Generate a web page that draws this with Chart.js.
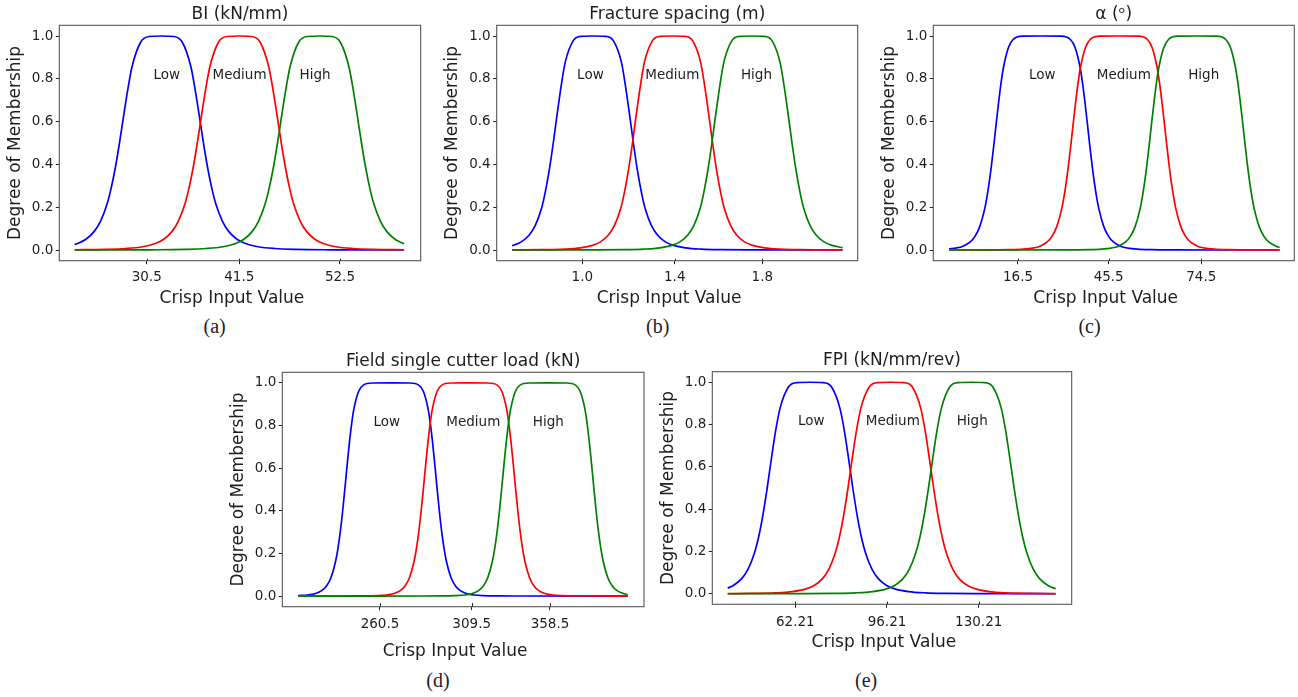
<!DOCTYPE html>
<html><head><meta charset="utf-8">
<script src="https://cdn.jsdelivr.net/npm/chart.js@4.4.1/dist/chart.umd.min.js"></script>
<style>
html,body{margin:0;padding:0;background:#fff;}
body{width:1298px;height:697px;overflow:hidden;position:relative;}
canvas{position:absolute;}
.cap{position:absolute;font-family:"Liberation Serif","Times New Roman",serif;font-size:20px;line-height:20px;color:#222;transform:translate(-50%,-50%);white-space:nowrap;}
</style></head><body>
<canvas id="ca"></canvas><canvas id="cb"></canvas><canvas id="cc"></canvas><canvas id="cd"></canvas><canvas id="ce"></canvas>
<div class="cap" id="capa">(a)</div><div class="cap" id="capb">(b)</div><div class="cap" id="capc">(c)</div><div class="cap" id="capd">(d)</div><div class="cap" id="cape">(e)</div>
<script>
// ---------- shared ----------
const setNames = ['Low', 'Medium', 'High'];
const setColors = ['#0000ff', '#ff0000', '#008000'];
const yTickValues = [0, 0.2, 0.4, 0.6, 0.8, 1.0];
const setLabelY = 0.8;

// ---------- (a) BI (kN/mm) ----------
const biTitle = 'BI (kN/mm)';
const biTickPos = [30.5, 41.04, 52.5];
const biTickLabels = ['30.5', '41.5', '52.5'];
const biLabelX = [32.78, 41.07, 49.66];
const biLowX = [22.3, 22.62, 23.58, 24.53, 25.25, 25.97, 26.44, 26.92, 27.40, 27.88, 28.36, 28.83, 29.79, 30.75, 32.18, 33.61, 34.57, 35.53, 36.00, 36.48, 36.96, 37.44, 37.92, 38.39, 39.11, 39.83, 40.78, 41.74, 43.17, 45.09, 47.48, 51.30, 56.08, 59.8];
const biLowY = [0.026, 0.0303, 0.0503, 0.0871, 0.1350, 0.2122, 0.2867, 0.3831, 0.5, 0.6287, 0.7532, 0.8561, 0.9697, 0.9976, 1, 0.9976, 0.9697, 0.8561, 0.7532, 0.6287, 0.5, 0.3831, 0.2867, 0.2122, 0.1350, 0.0871, 0.0503, 0.0303, 0.0153, 0.0069, 0.0030, 0.0010, 0.0003, 0.0002];
const biMedX = [22.3, 25.74, 28.13, 30.05, 31.48, 32.44, 33.39, 34.11, 34.83, 35.30, 35.78, 36.26, 36.74, 37.22, 37.69, 38.65, 39.61, 41.04, 42.47, 43.43, 44.39, 44.86, 45.34, 45.82, 46.30, 46.78, 47.25, 47.97, 48.69, 49.64, 50.60, 52.03, 53.95, 56.34, 59.8];
const biMedY = [0.0011, 0.0030, 0.0069, 0.0153, 0.0303, 0.0503, 0.0871, 0.1350, 0.2122, 0.2867, 0.3831, 0.5, 0.6287, 0.7532, 0.8561, 0.9697, 0.9976, 1, 0.9976, 0.9697, 0.8561, 0.7532, 0.6287, 0.5, 0.3831, 0.2867, 0.2122, 0.1350, 0.0871, 0.0503, 0.0303, 0.0153, 0.0069, 0.0030, 0.0011];
const biHighX = [22.3, 26.27, 31.05, 34.87, 37.26, 39.18, 40.61, 41.57, 42.52, 43.24, 43.96, 44.43, 44.91, 45.39, 45.87, 46.35, 46.82, 47.78, 48.74, 50.17, 51.60, 52.56, 53.52, 53.99, 54.47, 54.95, 55.43, 55.91, 56.38, 57.10, 57.82, 58.77, 59.8];
const biHighY = [0.0001, 0.0003, 0.0010, 0.0030, 0.0069, 0.0153, 0.0303, 0.0503, 0.0871, 0.1350, 0.2122, 0.2867, 0.3831, 0.5, 0.6287, 0.7532, 0.8561, 0.9697, 0.9976, 1, 0.9976, 0.9697, 0.8561, 0.7532, 0.6287, 0.5, 0.3831, 0.2867, 0.2122, 0.1350, 0.0871, 0.0503, 0.029];

// ---------- (b) Fracture spacing (m) ----------
const fsTitle = 'Fracture spacing (m)';
const fsTickPos = [1.0, 1.411, 1.8];
const fsTickLabels = ['1.0', '1.4', '1.8'];
const fsLabelX = [1.036, 1.400, 1.774];
const fsLowX = [0.688, 0.729, 0.764, 0.791, 0.818, 0.835, 0.853, 0.871, 0.889, 0.907, 0.924, 0.960, 0.996, 1.049, 1.102, 1.138, 1.174, 1.191, 1.209, 1.227, 1.245, 1.263, 1.280, 1.307, 1.334, 1.369, 1.405, 1.458, 1.530, 1.619, 1.761, 1.939, 2.157];
const fsLowY = [0.020, 0.0380, 0.0701, 0.1147, 0.1911, 0.2684, 0.3719, 0.5, 0.6410, 0.7733, 0.8767, 0.9784, 0.9987, 1, 0.9987, 0.9784, 0.8767, 0.7733, 0.6410, 0.5, 0.3719, 0.2684, 0.1911, 0.1147, 0.0701, 0.0380, 0.0216, 0.0101, 0.0042, 0.0017, 0.0005, 0.0001, 0];
const fsMedX = [0.688, 0.831, 0.920, 0.992, 1.045, 1.081, 1.116, 1.143, 1.170, 1.187, 1.205, 1.223, 1.241, 1.259, 1.276, 1.312, 1.348, 1.401, 1.454, 1.490, 1.526, 1.543, 1.561, 1.579, 1.597, 1.615, 1.632, 1.659, 1.686, 1.721, 1.757, 1.810, 1.882, 1.971, 2.157];
const fsMedY = [0.0005, 0.0017, 0.0042, 0.0101, 0.0216, 0.0380, 0.0701, 0.1147, 0.1911, 0.2684, 0.3719, 0.5, 0.6410, 0.7733, 0.8767, 0.9784, 0.9987, 1, 0.9987, 0.9784, 0.8767, 0.7733, 0.6410, 0.5, 0.3719, 0.2684, 0.1911, 0.1147, 0.0701, 0.0380, 0.0216, 0.0101, 0.0042, 0.0017, 0.0003];
const fsHighX = [0.688, 0.864, 1.042, 1.184, 1.273, 1.345, 1.398, 1.434, 1.469, 1.496, 1.523, 1.540, 1.558, 1.576, 1.594, 1.612, 1.629, 1.665, 1.701, 1.754, 1.807, 1.843, 1.879, 1.896, 1.914, 1.932, 1.950, 1.968, 1.985, 2.012, 2.039, 2.074, 2.110, 2.157];
const fsHighY = [0, 0.0001, 0.0005, 0.0017, 0.0042, 0.0101, 0.0216, 0.0380, 0.0701, 0.1147, 0.1911, 0.2684, 0.3719, 0.5, 0.6410, 0.7733, 0.8767, 0.9784, 0.9987, 1, 0.9987, 0.9784, 0.8767, 0.7733, 0.6410, 0.5, 0.3719, 0.2684, 0.1911, 0.1147, 0.0701, 0.0380, 0.0216, 0.011];

// ---------- (c) alpha (deg) ----------
const alTitle = 'α (ᵒ)';
const alTickPos = [16.5, 45.2, 74.5];
const alTickLabels = ['16.5', '45.5', '74.5'];
const alLabelX = [24.19, 49.98, 75.27];
const alLowX = [-5.3, -3.15, -0.89, 1.38, 2.89, 4.40, 5.91, 6.66, 7.42, 8.17, 8.93, 9.68, 10.44, 11.19, 11.95, 13.46, 14.97, 17.99, 24.03, 30.07, 33.09, 34.60, 36.11, 36.87, 37.62, 38.38, 39.13, 39.89, 40.64, 41.40, 42.15, 43.66, 45.17, 46.68, 48.95, 51.21, 54.23, 58.76, 64.80, 99.3];
const alLowY = [0.0049, 0.0090, 0.0179, 0.0376, 0.0635, 0.1092, 0.1887, 0.2464, 0.3181, 0.4036, 0.5, 0.6012, 0.6991, 0.7859, 0.8563, 0.9455, 0.9835, 0.9993, 1, 0.9993, 0.9835, 0.9455, 0.8563, 0.7859, 0.6991, 0.6012, 0.5, 0.4036, 0.3181, 0.2464, 0.1887, 0.1092, 0.0635, 0.0376, 0.0179, 0.0090, 0.0039, 0.0013, 0.0004, 0];
const alMedX = [-5.3, 7.63, 13.67, 18.20, 21.22, 23.48, 25.75, 27.26, 28.77, 30.28, 31.03, 31.79, 32.54, 33.30, 34.05, 34.81, 35.56, 36.32, 37.83, 39.34, 42.36, 48.4, 54.44, 57.46, 58.97, 60.48, 61.24, 61.99, 62.75, 63.50, 64.26, 65.01, 65.77, 66.52, 68.03, 69.54, 71.05, 73.32, 75.58, 78.60, 83.13, 89.17, 99.3];
const alMedY = [0, 0.0004, 0.0013, 0.0039, 0.0090, 0.0179, 0.0376, 0.0635, 0.1092, 0.1887, 0.2464, 0.3181, 0.4036, 0.5, 0.6012, 0.6991, 0.7859, 0.8563, 0.9455, 0.9835, 0.9993, 1, 0.9993, 0.9835, 0.9455, 0.8563, 0.7859, 0.6991, 0.6012, 0.5, 0.4036, 0.3181, 0.2464, 0.1887, 0.1092, 0.0635, 0.0376, 0.0179, 0.0090, 0.0039, 0.0013, 0.0004, 0];
const alHighX = [-5.3, 32.43, 38.47, 43.00, 46.02, 48.28, 50.55, 52.06, 53.57, 55.08, 55.83, 56.59, 57.34, 58.10, 58.85, 59.61, 60.36, 61.12, 62.63, 64.14, 67.16, 73.2, 79.24, 82.26, 83.77, 85.28, 86.04, 86.79, 87.55, 88.30, 89.06, 89.81, 90.57, 91.32, 92.83, 94.34, 95.85, 98.12, 99.3];
const alHighY = [0, 0.0004, 0.0013, 0.0039, 0.0090, 0.0179, 0.0376, 0.0635, 0.1092, 0.1887, 0.2464, 0.3181, 0.4036, 0.5, 0.6012, 0.6991, 0.7859, 0.8563, 0.9455, 0.9835, 0.9993, 1, 0.9993, 0.9835, 0.9455, 0.8563, 0.7859, 0.6991, 0.6012, 0.5, 0.4036, 0.3181, 0.2464, 0.1887, 0.1092, 0.0635, 0.0376, 0.0179, 0.0124];

// ---------- (d) Field single cutter load (kN) ----------
const clTitle = 'Field single cutter load (kN)';
const clTickPos = [260.5, 313.36, 358.5];
const clTickLabels = ['260.5', '309.5', '358.5'];
const clLabelX = [264.36, 314.3, 357.5];
const clLowX = [213.4, 218.91, 222.90, 226.89, 229.56, 232.22, 234.88, 236.22, 237.55, 238.88, 240.21, 241.54, 242.87, 244.20, 245.54, 248.20, 250.86, 256.19, 266.84, 277.49, 282.82, 285.48, 288.14, 289.48, 290.81, 292.14, 293.47, 294.80, 296.13, 297.46, 298.80, 301.46, 304.12, 306.79, 310.78, 314.77, 320.10, 328.09, 338.74, 403.3];
const clLowY = [0.0019, 0.0050, 0.0109, 0.0254, 0.0462, 0.0862, 0.1623, 0.2213, 0.2978, 0.3920, 0.5, 0.6134, 0.7208, 0.8120, 0.8817, 0.9612, 0.9900, 0.9997, 1, 0.9997, 0.9900, 0.9612, 0.8817, 0.8120, 0.7208, 0.6134, 0.5, 0.3920, 0.2978, 0.2213, 0.1623, 0.0862, 0.0462, 0.0254, 0.0109, 0.0050, 0.0020, 0.0006, 0.0001, 0];
const clMedX = [213.4, 240.19, 250.84, 258.83, 264.16, 268.15, 272.14, 274.81, 277.47, 280.13, 281.47, 282.80, 284.13, 285.46, 286.79, 288.12, 289.45, 290.79, 293.45, 296.11, 301.44, 312.09, 322.74, 328.07, 330.73, 333.39, 334.73, 336.06, 337.39, 338.72, 340.05, 341.38, 342.71, 344.05, 346.71, 349.37, 352.04, 356.03, 360.02, 365.35, 373.34, 383.99, 403.3];
const clMedY = [0, 0.0001, 0.0006, 0.0020, 0.0050, 0.0109, 0.0254, 0.0462, 0.0862, 0.1623, 0.2213, 0.2978, 0.3920, 0.5, 0.6134, 0.7208, 0.8120, 0.8817, 0.9612, 0.9900, 0.9997, 1, 0.9997, 0.9900, 0.9612, 0.8817, 0.8120, 0.7208, 0.6134, 0.5, 0.3920, 0.2978, 0.2213, 0.1623, 0.0862, 0.0462, 0.0254, 0.0109, 0.0050, 0.0020, 0.0006, 0.0001, 0];
const clHighX = [213.4, 285.33, 295.98, 303.97, 309.30, 313.29, 317.28, 319.95, 322.61, 325.27, 326.61, 327.94, 329.27, 330.60, 331.93, 333.26, 334.59, 335.93, 338.59, 341.25, 346.58, 357.23, 367.88, 373.21, 375.87, 378.53, 379.87, 381.20, 382.53, 383.86, 385.19, 386.52, 387.85, 389.19, 391.85, 394.51, 397.18, 401.17, 403.3];
const clHighY = [0, 0.0001, 0.0006, 0.0020, 0.0050, 0.0109, 0.0254, 0.0462, 0.0862, 0.1623, 0.2213, 0.2978, 0.3920, 0.5, 0.6134, 0.7208, 0.8120, 0.8817, 0.9612, 0.9900, 0.9997, 1, 0.9997, 0.9900, 0.9612, 0.8817, 0.8120, 0.7208, 0.6134, 0.5, 0.3920, 0.2978, 0.2213, 0.1623, 0.0862, 0.0462, 0.0254, 0.0109, 0.0072];

// ---------- (e) FPI (kN/mm/rev) ----------
const fpiTitle = 'FPI (kN/mm/rev)';
const fpiTickPos = [62.21, 96.21, 130.21];
const fpiTickLabels = ['62.21', '96.21', '130.21'];
const fpiLabelX = [68.14, 98.36, 127.80];
const fpiLowX = [37.14, 39.09, 42.27, 44.65, 47.03, 48.62, 50.20, 51.79, 53.38, 54.96, 56.55, 59.72, 62.90, 67.66, 72.42, 75.60, 78.77, 80.36, 81.94, 83.53, 85.12, 86.70, 88.29, 90.67, 93.05, 96.23, 99.40, 104.16, 110.51, 118.44, 131.14, 147.01, 158.76];
const fpiLowY = [0.0267, 0.0380, 0.0701, 0.1147, 0.1911, 0.2684, 0.3719, 0.5, 0.6410, 0.7733, 0.8767, 0.9784, 0.9987, 1, 0.9987, 0.9784, 0.8767, 0.7733, 0.6410, 0.5, 0.3719, 0.2684, 0.1911, 0.1147, 0.0701, 0.0380, 0.0216, 0.0101, 0.0042, 0.0017, 0.0005, 0.0001, 0];
const fpiMedX = [37.14, 46.84, 54.77, 61.12, 65.88, 69.05, 72.23, 74.61, 76.99, 78.58, 80.16, 81.75, 83.34, 84.92, 86.51, 89.68, 92.86, 97.62, 102.38, 105.56, 108.73, 110.32, 111.90, 113.49, 115.08, 116.66, 118.25, 120.63, 123.01, 126.19, 129.36, 134.12, 140.47, 148.40, 158.76];
const fpiMedY = [0.0006, 0.0017, 0.0042, 0.0101, 0.0216, 0.0380, 0.0701, 0.1147, 0.1911, 0.2684, 0.3719, 0.5, 0.6410, 0.7733, 0.8767, 0.9784, 0.9987, 1, 0.9987, 0.9784, 0.8767, 0.7733, 0.6410, 0.5, 0.3719, 0.2684, 0.1911, 0.1147, 0.0701, 0.0380, 0.0216, 0.0101, 0.0042, 0.0017, 0.0006];
const fpiHighX = [37.14, 48.12, 63.99, 76.69, 84.62, 90.97, 95.73, 98.90, 102.08, 104.46, 106.84, 108.43, 110.01, 111.60, 113.19, 114.77, 116.36, 119.53, 122.71, 127.47, 132.23, 135.41, 138.58, 140.17, 141.75, 143.34, 144.93, 146.51, 148.10, 150.48, 152.86, 156.04, 158.76];
const fpiHighY = [0, 0.0001, 0.0005, 0.0017, 0.0042, 0.0101, 0.0216, 0.0380, 0.0701, 0.1147, 0.1911, 0.2684, 0.3719, 0.5, 0.6410, 0.7733, 0.8767, 0.9784, 0.9987, 1, 0.9987, 0.9784, 0.8767, 0.7733, 0.6410, 0.5, 0.3719, 0.2684, 0.1911, 0.1147, 0.0701, 0.0380, 0.0233];

// ---------- layout (positions / styles only) ----------
const TXT = '#1e1e1e';
const AX = '#555555';
Chart.defaults.font.family = "'DejaVu Sans', 'Liberation Sans', sans-serif";
Chart.defaults.color = TXT;

const panels = [
  {cv: 'ca', cap: 'capa', title: biTitle, xs: [biLowX, biMedX, biHighX], ys: [biLowY, biMedY, biHighY], tickPos: biTickPos, tickLabels: biTickLabels, labelX: biLabelX,
   min: 20.55, max: 61.69, g: {cl: 0, ct: 0, w: 425, h: 311, l: 59.3, t: 25.3, r: 420.7, b: 260.7, xPad: 5.3, inTick: 2, xMid: 298.7, capX: 214.7, capY: 326.4}},
  {cv: 'cb', cap: 'capb', title: fsTitle, xs: [fsLowX, fsMedX, fsHighX], ys: [fsLowY, fsMedY, fsHighY], tickPos: fsTickPos, tickLabels: fsTickLabels, labelX: fsLabelX,
   min: 0.6196, max: 2.224, g: {cl: 436, ct: 0, w: 426, h: 311, l: 496.7, t: 25.3, r: 857.7, b: 260.7, xPad: 5.3, inTick: 2, xMid: 298.7, capX: 657.7, capY: 326.4}},
  {cv: 'cc', cap: 'capc', title: alTitle, xs: [alLowX, alMedX, alHighX], ys: [alLowY, alMedY, alHighY], tickPos: alTickPos, tickLabels: alTickLabels, labelX: alLabelX,
   min: -10.3, max: 103.94, g: {cl: 873, ct: 0, w: 425, h: 311, l: 933.3, t: 25.3, r: 1294.3, b: 260.7, xPad: 5.3, inTick: 2, xMid: 298.7, capX: 1089.5, capY: 326.4}},
  {cv: 'cd', cap: 'capd', title: clTitle, xs: [clLowX, clMedX, clHighX], ys: [clLowY, clMedY, clHighY], tickPos: clTickPos, tickLabels: clTickLabels, labelX: clLabelX,
   min: 204.18, max: 412.69, g: {cl: 222, ct: 346, w: 426, h: 318, l: 282.3, t: 372.3, r: 644, b: 606.7, xPad: 5.9, inTick: 3.5, xMid: 651.2, capX: 438, capY: 680.1}},
  {cv: 'ce', cap: 'cape', title: fpiTitle, xs: [fpiLowX, fpiMedX, fpiHighX], ys: [fpiLowY, fpiMedY, fpiHighY], tickPos: fpiTickPos, tickLabels: fpiTickLabels, labelX: fpiLabelX,
   min: 31.44, max: 164.69, g: {cl: 652, ct: 346, w: 424, h: 310, l: 712.3, t: 371.7, r: 1071.7, b: 604.3, xPad: 6.7, inTick: 2.5, xMid: 642.9, capX: 866.2, capY: 680.1}}
];

const decor = {
  id: 'decor',
  afterDraw(chart, args, o) {
    const {ctx, chartArea: ca, scales: {x, y}} = chart;
    ctx.save();
    ctx.fillStyle = TXT;
    ctx.font = "13.5px 'DejaVu Sans'";
    ctx.textAlign = 'center';
    ctx.textBaseline = 'alphabetic';
    o.names.forEach((t, i) => ctx.fillText(t, x.getPixelForValue(o.labelX[i]), y.getPixelForValue(o.labelY)));
    ctx.strokeStyle = AX;
    ctx.lineWidth = 1.1;
    ctx.strokeRect(ca.left, ca.top, ca.right - ca.left, ca.bottom - ca.top);
    ctx.lineWidth = 1;
    ctx.strokeStyle = '#222';
    ctx.beginPath();
    x.ticks.forEach(t => { const px = Math.round(x.getPixelForValue(t.value)) + 0.5; ctx.moveTo(px, ca.bottom); ctx.lineTo(px, ca.bottom - o.inTick); });
    ctx.stroke();
    ctx.restore();
  }
};

panels.forEach(p => {
  const g = p.g;
  const cv = document.getElementById(p.cv);
  cv.width = g.w; cv.height = g.h;
  cv.style.left = g.cl + 'px'; cv.style.top = g.ct + 'px';
  cv.style.width = g.w + 'px'; cv.style.height = g.h + 'px';
  const cap = document.getElementById(p.cap);
  cap.style.left = g.capX + 'px'; cap.style.top = g.capY + 'px';

  const YW = g.l - g.cl;
  const TH = g.t - g.ct;
  const bottomEdge = g.ct + g.h;
  const XH = bottomEdge - g.b;
  const rightPad = g.cl + g.w - g.r;

  const datasets = setNames.map((name, i) => ({
    label: name,
    data: p.xs[i].map((xv, k) => ({x: xv, y: p.ys[i][k]})),
    borderColor: setColors[i],
    backgroundColor: setColors[i],
    borderWidth: 1.7,
    pointRadius: 0,
    fill: false,
    cubicInterpolationMode: 'monotone',
    order: 2 - i
  }));

  const tickGrid = {display: true, drawOnChartArea: false, drawTicks: true, tickLength: 3.5, color: '#222', tickColor: '#222', lineWidth: 1};

  new Chart(cv, {
    type: 'line',
    data: {datasets},
    plugins: [decor],
    options: {
      responsive: false,
      animation: false,
      devicePixelRatio: 1,
      layout: {padding: {left: 0, top: 0, right: rightPad, bottom: 0}},
      plugins: {
        legend: {display: false},
        tooltip: {enabled: false},
        title: {display: true, text: p.title, fullSize: false, color: TXT,
                font: {size: 17, weight: 'normal', lineHeight: 1.2},
                padding: {top: TH - 20.9, bottom: 0.5}},
        decor: {names: setNames, labelX: p.labelX, labelY: setLabelY, inTick: g.inTick}
      },
      scales: {
        x: {
          type: 'linear', min: p.min, max: p.max,
          afterBuildTicks: s => { s.ticks = p.tickPos.map(v => ({value: v})); },
          afterFit: s => { s.height = XH; },
          ticks: {callback: (v, i) => p.tickLabels[i], font: {size: 13.5}, color: TXT, padding: g.xPad, autoSkip: false, maxRotation: 0, minRotation: 0},
          grid: tickGrid,
          border: {display: false},
          title: {display: true, text: 'Crisp Input Value   ', color: TXT, font: {size: 17, lineHeight: 1.2},
                  padding: {top: 0, bottom: bottomEdge - 10.2 - g.xMid}}
        },
        y: {
          type: 'linear', min: -0.05, max: 1.05,
          afterBuildTicks: s => { s.ticks = yTickValues.map(v => ({value: v})); },
          afterFit: s => { s.width = YW; },
          ticks: {callback: v => Number(v).toFixed(1), font: {size: 13.5}, color: TXT, padding: 2.5, autoSkip: false},
          grid: tickGrid,
          border: {display: false},
          title: {display: true, text: 'Degree of Membership', color: TXT, font: {size: 17, lineHeight: 1.2},
                  padding: {top: YW - 54, bottom: 0}}
        }
      }
    }
  });
});
</script>
</body></html>
